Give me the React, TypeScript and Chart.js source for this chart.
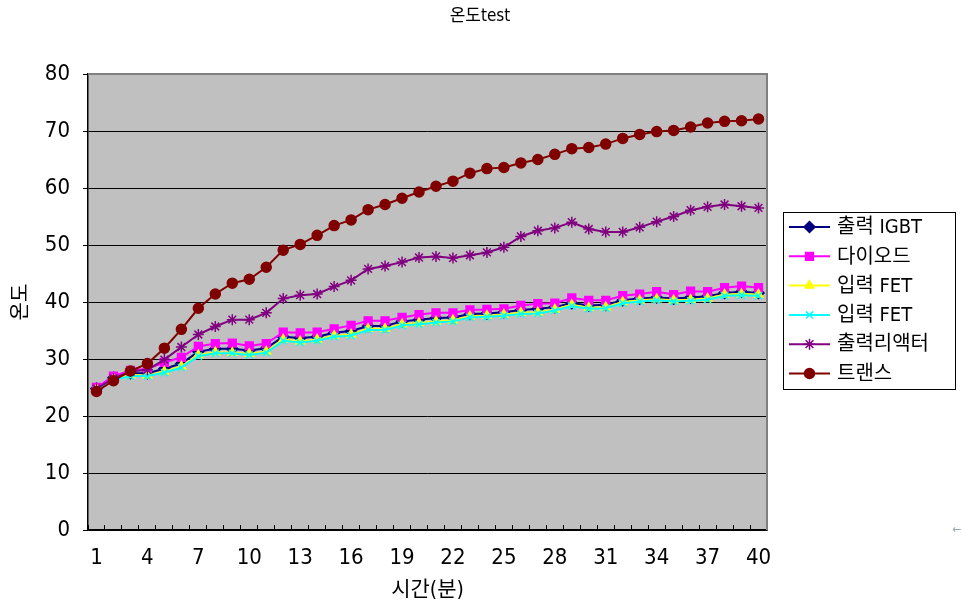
import React, { useEffect, useRef } from 'react';
import { Chart, registerables } from 'chart.js';
import { drawPoint } from 'chart.js/helpers';

Chart.register(...registerables);

const chartTitle = '온도test';
const xAxisTitle = '시간(분)';
const yAxisTitle = '온도';

const minutes = [
  '1', '2', '3', '4', '5', '6', '7', '8', '9', '10',
  '11', '12', '13', '14', '15', '16', '17', '18', '19', '20',
  '21', '22', '23', '24', '25', '26', '27', '28', '29', '30',
  '31', '32', '33', '34', '35', '36', '37', '38', '39', '40',
];

const yTicks = [0, 10, 20, 30, 40, 50, 60, 70, 80];

const seriesNames = ['출력 IGBT', '다이오드', '입력 FET', '입력 FET', '출력리액터', '트랜스'];

const igbt = [
  24.8, 26.7, 27.5, 27.5, 28.3, 29.2, 31.3, 31.8, 31.8, 31.5,
  31.9, 33.9, 33.7, 33.9, 34.6, 34.9, 35.8, 35.8, 36.6, 36.9,
  37.2, 37.3, 37.9, 38.0, 38.2, 38.6, 38.8, 39.1, 39.8, 39.4,
  39.5, 40.3, 40.6, 40.8, 40.6, 40.8, 41.0, 41.6, 41.8, 41.6,
];

const diode = [
  25.0, 27.0, 28.0, 28.3, 29.4, 30.3, 32.2, 32.7, 32.8, 32.3,
  32.7, 34.7, 34.6, 34.7, 35.3, 35.9, 36.7, 36.7, 37.3, 37.8,
  38.1, 38.1, 38.6, 38.7, 38.8, 39.4, 39.7, 39.8, 40.7, 40.3,
  40.3, 41.1, 41.4, 41.8, 41.3, 41.9, 41.8, 42.5, 42.8, 42.5,
];

const inputFetA = [
  24.7, 26.5, 27.2, 27.1, 27.8, 28.7, 30.7, 31.2, 31.1, 30.9,
  31.3, 33.4, 33.1, 33.4, 34.1, 34.3, 35.3, 35.3, 36.1, 36.3,
  36.6, 36.8, 37.5, 37.6, 37.8, 38.1, 38.2, 38.7, 39.5, 39.0,
  39.1, 40.0, 40.3, 40.5, 40.3, 40.4, 40.6, 41.3, 41.4, 41.3,
];

const inputFetB = [
  24.6, 26.3, 27.0, 27.0, 27.6, 28.5, 30.5, 31.0, 31.0, 30.7,
  31.1, 33.2, 32.9, 33.2, 33.9, 34.1, 35.1, 35.1, 35.9, 36.1,
  36.4, 36.6, 37.3, 37.4, 37.6, 37.9, 38.0, 38.5, 39.3, 38.8,
  38.9, 39.8, 40.1, 40.3, 40.1, 40.2, 40.4, 41.1, 41.2, 41.1,
];

const reactor = [
  24.8, 26.6, 27.8, 28.1, 29.9, 32.1, 34.3, 35.7, 36.9, 36.9,
  38.1, 40.6, 41.2, 41.4, 42.7, 43.8, 45.8, 46.3, 47.0, 47.8,
  48.0, 47.7, 48.2, 48.7, 49.6, 51.5, 52.5, 53.0, 54.0, 52.8,
  52.3, 52.3, 53.1, 54.1, 55.0, 56.1, 56.7, 57.1, 56.8, 56.5,
];

const trans = [
  24.3, 26.2, 27.9, 29.2, 31.9, 35.2, 38.9, 41.4, 43.3, 44.0,
  46.1, 49.1, 50.1, 51.7, 53.4, 54.4, 56.2, 57.1, 58.2, 59.3,
  60.3, 61.2, 62.6, 63.4, 63.6, 64.4, 65.0, 65.9, 66.9, 67.1,
  67.7, 68.7, 69.4, 69.9, 70.1, 70.7, 71.4, 71.7, 71.8, 72.1,
];

const seriesValues = [igbt, diode, inputFetA, inputFetB, reactor, trans];
const seriesColors = ['#000080', '#FF00FF', '#FFFF00', '#00FFFF', '#800080', '#800000'];
const pointStyles = ['rectRot', 'rect', 'triangle', 'crossRot', 'star', 'circle'];
const pointRadii = [5.5, 5.5, 5, 5, 5.5, 5];

const FONT = "'Liberation Sans Narrow', 'DejaVu Sans Condensed', 'Noto Sans CJK KR', sans-serif";

const decorPlugin = {
  id: 'decor',
  beforeDraw(chart: any) {
    const { ctx, chartArea } = chart;
    ctx.save();
    ctx.fillStyle = '#ffffff';
    ctx.fillRect(0, 0, chart.width, chart.height);
    ctx.fillStyle = '#C0C0C0';
    ctx.fillRect(chartArea.left, chartArea.top, chartArea.right - chartArea.left, chartArea.bottom - chartArea.top);
    ctx.restore();
  },
  beforeDatasetsDraw(chart: any) {
    const { ctx, chartArea } = chart;
    ctx.save();
    ctx.strokeStyle = '#808080';
    ctx.lineWidth = 2;
    ctx.beginPath();
    ctx.moveTo(chartArea.left, chartArea.top);
    ctx.lineTo(chartArea.right, chartArea.top);
    ctx.lineTo(chartArea.right, chartArea.bottom);
    ctx.stroke();
    ctx.restore();
  },
  afterDraw(chart: any) {
    const { ctx } = chart;
    ctx.save();
    // title
    ctx.fillStyle = '#000';
    ctx.font = `17px ${FONT}`;
    ctx.textAlign = 'center';
    ctx.textBaseline = 'middle';
    ctx.fillText(chartTitle, 480, 17);

    // legend
    const bx = 783, by = 212, bw = 172, bh = 177;
    ctx.fillStyle = '#ffffff';
    ctx.fillRect(bx, by, bw, bh);
    ctx.strokeStyle = '#000';
    ctx.lineWidth = 1;
    ctx.strokeRect(bx + 0.5, by + 0.5, bw, bh);
    const step = 29.3;
    seriesNames.forEach((name, i) => {
      const y = by + 15 + i * step;
      const c = seriesColors[i];
      ctx.strokeStyle = c;
      ctx.lineWidth = 2;
      ctx.beginPath();
      ctx.moveTo(789, y);
      ctx.lineTo(830, y);
      ctx.stroke();
      ctx.fillStyle = c;
      ctx.strokeStyle = c;
      ctx.lineWidth = 1.5;
      drawPoint(ctx, { pointStyle: pointStyles[i], radius: pointRadii[i], borderWidth: 1.5, rotation: 0 } as any, 809.5, y);
      ctx.fillStyle = '#000';
      ctx.font = `20px ${FONT}`;
      ctx.textAlign = 'left';
      ctx.textBaseline = 'middle';
      ctx.fillText(name, 837, y + 1);
    });

    ctx.fillStyle = '#9aa4b0';
    ctx.font = `12px ${FONT}`;
    ctx.textAlign = 'center';
    ctx.fillText('←', 957, 530);
    ctx.restore();
  },
};

function App() {
  const ref = useRef<HTMLCanvasElement | null>(null);

  useEffect(() => {
    if (!ref.current) return;
    const datasets = seriesNames.map((name, i) => ({
      label: name,
      data: seriesValues[i],
      borderColor: seriesColors[i],
      backgroundColor: seriesColors[i],
      pointBackgroundColor: seriesColors[i],
      pointBorderColor: seriesColors[i],
      pointStyle: pointStyles[i],
      pointRadius: pointRadii[i],
      pointBorderWidth: 1.5,
      borderWidth: 2,
      tension: 0,
      fill: false,
      order: seriesNames.length - i,
    }));

    const chart = new Chart(ref.current, {
      type: 'line',
      data: { labels: minutes, datasets },
      plugins: [decorPlugin],
      options: {
        responsive: false,
        animation: false,
        events: [],
        layout: { padding: { left: 0, top: 74, right: 195, bottom: 0 } },
        plugins: {
          legend: { display: false },
          title: { display: false },
          tooltip: { enabled: false },
        },
        scales: {
          x: {
            type: 'category',
            offset: true,
            afterFit(scale: any) { scale.height = 83; },
            grid: {
              offset: true,
              drawOnChartArea: false,
              drawTicks: true,
              tickLength: -5,
              tickColor: '#000',
              color: '#000',
            },
            border: { display: true, color: '#000', width: 1.5 },
            ticks: {
              autoSkip: false,
              maxRotation: 0,
              minRotation: 0,
              padding: 20,
              color: '#000',
              font: { family: FONT, size: 22 },
              callback: (_v: any, idx: number) => (idx % 3 === 0 ? minutes[idx] : ''),
            },
            title: {
              display: true,
              text: xAxisTitle,
              color: '#000',
              font: { family: FONT, size: 21 },
              padding: { top: 0, bottom: 10 },
            },
          },
          y: {
            min: yTicks[0],
            max: yTicks[yTicks.length - 1],
            afterFit(scale: any) { scale.width = 88; },
            afterBuildTicks(scale: any) { scale.ticks = yTicks.map((v) => ({ value: v })); },
            grid: {
              color: (c: any) => (c.tick && c.tick.value === 80 ? '#808080' : '#000'),
              tickColor: '#000',
              tickLength: 5,
              lineWidth: 1,
            },
            border: { display: true, color: '#000', width: 1.5 },
            ticks: {
              stepSize: 10,
              padding: 13,
              color: '#000',
              font: { family: FONT, size: 22 },
            },
            title: {
              display: true,
              text: yAxisTitle,
              color: '#000',
              font: { family: FONT, size: 20 },
              padding: { top: 10, bottom: 0 },
            },
          },
        },
      } as any,
    });
    return () => chart.destroy();
  }, []);

  return (
    <div style={{ position: 'fixed', left: 0, top: 0, width: 962, height: 613, background: '#fff' }}>
      <canvas ref={ref} width={962} height={613} style={{ display: 'block' }} />
    </div>
  );
}

export default App;
